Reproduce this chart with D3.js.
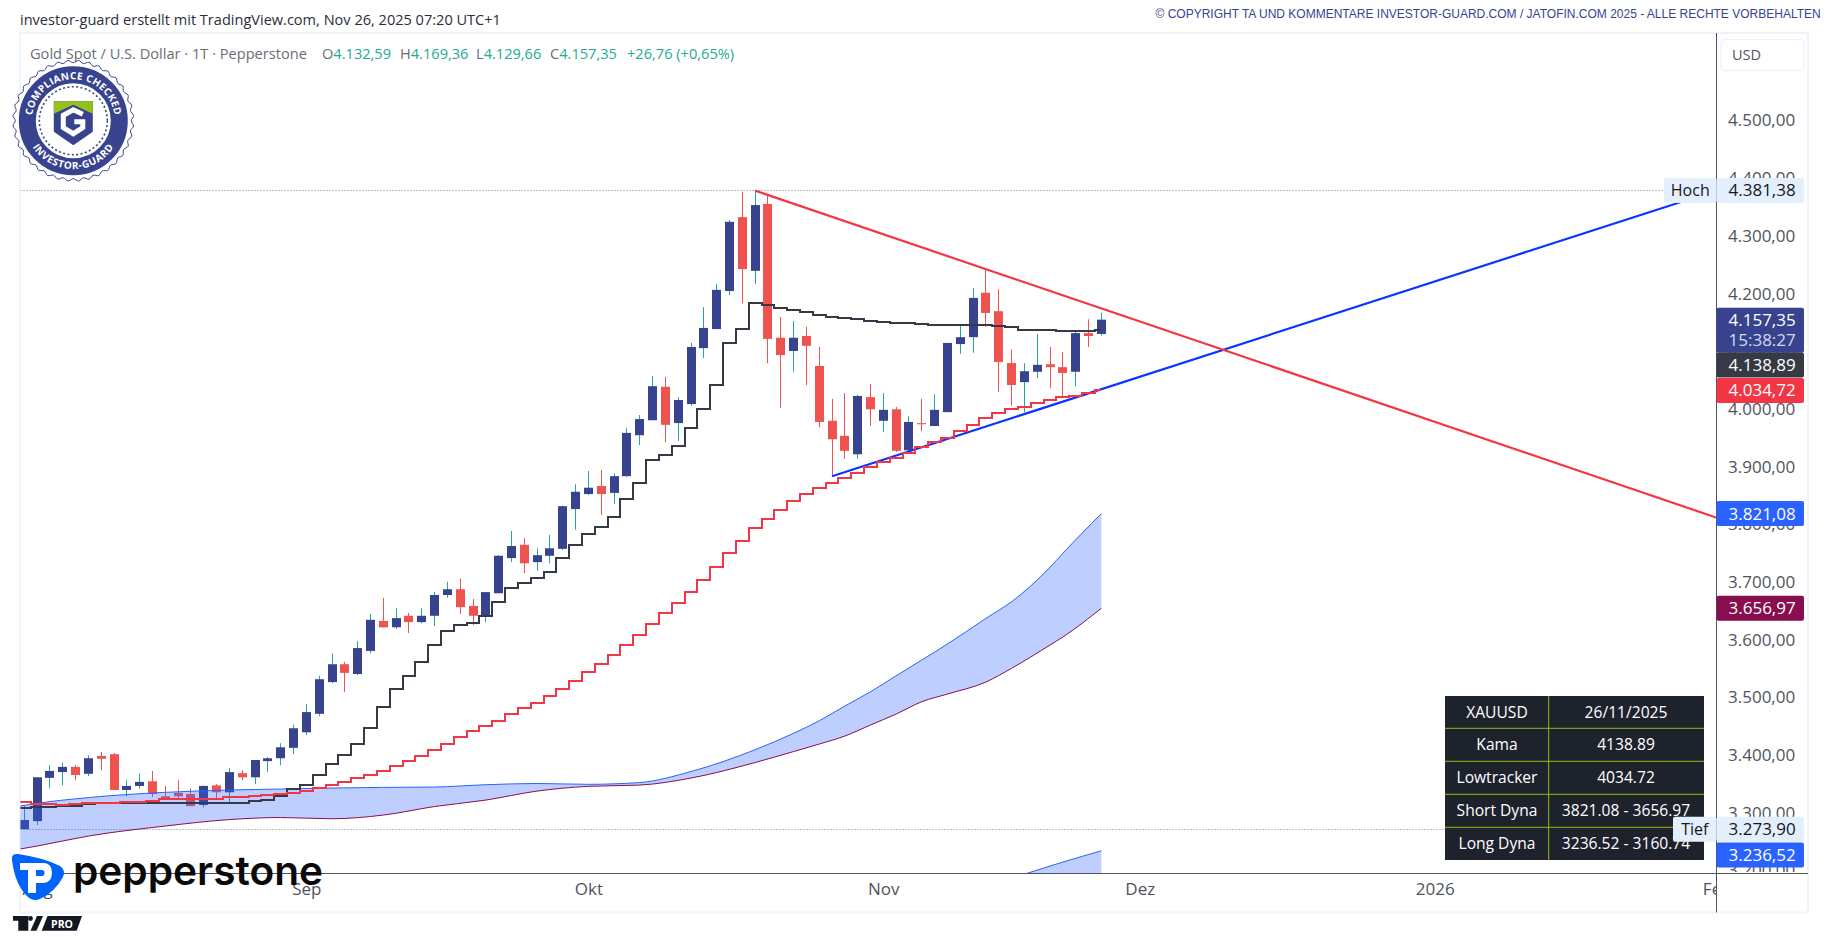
<!DOCTYPE html>
<html>
<head>
<meta charset="utf-8">
<title>XAUUSD</title>
<script src="https://cdn.jsdelivr.net/npm/d3@7"></script>
<style>
  html, body { margin: 0; padding: 0; background: #fff; }
  svg { display: block; }
  text { font-family: "Open Sans", sans-serif; }
</style>
</head>
<body>
<svg id="chart" width="1828" height="937"></svg>
<script>
// daily candles
var opens = [3274,3288,3363,3373,3382,3370,3401,3404,3342,3349,3357,3331,3337,3335,3316,3350,3338,3371,3364,3392,3397,3415,3442,3474,3529,3560,3543,3583,3635,3624,3644,3633,3644,3680,3690,3661,3644,3683,3744,3767,3737,3748,3760,3829,3855,3869,3857,3886,3957,3983,4041,3978,4011,4108,4141,4207,4335,4242,4358,4126,4103,4129,4077,3982,3956,3924,4023,3982,4002,3931,3978,3973,3997,4115,4127,4204,4172,4082,4049,4067,4080,4075,4067,4134,4132.59];
var highs = [3316,3364,3385,3390,3385,3402,3408,3406,3359,3371,3375,3349,3359,3345,3350,3352,3380,3376,3394,3399,3423,3455,3491,3540,3579,3564,3600,3647,3675,3657,3649,3657,3685,3703,3708,3673,3685,3749,3791,3779,3761,3784,3835,3872,3895,3897,3891,3970,3992,4060,4058,4023,4117,4179,4219,4330,4379,4381,4372,4162,4155,4145,4110,4020,4030,4027,4046,4030,4006,3990,4020,4028,4117,4148,4212,4243,4210,4106,4082,4132,4110,4101,4136,4158,4169.36];
var lows = [3274,3281,3345,3350,3359,3366,3376,3342,3331,3344,3330,3328,3328,3314,3312,3328,3321,3359,3352,3373,3385,3404,3437,3470,3527,3512,3541,3579,3624,3621,3614,3631,3626,3675,3647,3628,3633,3683,3737,3718,3722,3735,3758,3793,3853,3819,3838,3885,3940,3983,3945,3947,4008,4091,4141,4200,4186,4219,4082,4004,4067,4044,3971,3886,3916,3916,3973,3963,3928,3928,3964,3973,3997,4098,4100,4145,4032,4008,3997,4056,4039,4025,4041,4110,4129.66];
var closes = [3290,3364,3375,3382,3368,3397,3396,3342,3349,3356,3335,3328,3331,3314,3349,3338,3373,3364,3394,3397,3416,3449,3477,3534,3560,3545,3588,3637,3624,3640,3633,3644,3680,3690,3659,3644,3685,3748,3765,3735,3749,3761,3834,3859,3866,3855,3886,3961,3985,4042,3975,4018,4110,4143,4209,4327,4245,4356,4124,4096,4126,4112,3980,3950,3930,4025,4002,4001,3930,3980,3976,4001,4117,4127,4195,4169,4084,4044,4068,4079,4075,4065,4134,4129,4157.35];

// step lines, first value belongs to the bar before the first visible candle
var kama = [3310,3310,3312,3312,3314,3314,3317,3319,3319,3319,3319,3319,3319,3319,3319,3319,3320,3320,3320,3323,3325,3332,3343,3351,3368,3387,3403,3422,3449,3486,3517,3540,3564,3593,3618,3628,3631,3644,3668,3692,3701,3709,3720,3744,3767,3786,3798,3815,3846,3874,3914,3923,3938,3970,4002,4044,4117,4141,4187,4183,4178,4174,4171,4165,4162,4160,4159,4155,4153,4152,4152,4150,4148,4148,4148,4148,4148,4146,4145,4139,4139,4139,4138,4138,4138,4138.89];
var lowtracker = [3321,3321,3318,3318,3316,3318,3319,3320,3320,3322,3322,3323,3327,3327,3327,3327,3327,3329,3330,3332,3334,3335,3337,3341,3346,3351,3356,3363,3368,3375,3384,3393,3401,3411,3422,3434,3444,3453,3462,3474,3484,3493,3505,3517,3531,3546,3560,3576,3593,3611,3630,3649,3666,3685,3706,3729,3753,3774,3796,3812,3827,3843,3855,3866,3874,3883,3891,3902,3911,3918,3927,3937,3945,3952,3964,3975,3987,3996,4002,4006,4013,4018,4023,4025,4030,4034.72];

// short dyna band, kinks only
var shortIdx = [-1,1,5,11,16,20,24,28,32,36,40,44,48,52,57,60,62,64,66,68,70,72,75,77,80,81,84];
var shortUpper = [3311.5,3318.8,3328.8,3337.9,3341.9,3343.6,3345.3,3346.5,3347.1,3351.1,3353.2,3351.8,3354.9,3374,3411.8,3440.2,3462,3487.5,3512.3,3540,3567.3,3595,3639.5,3668.3,3728,3752.2,3821.08];
var shortLower = [3237,3244.8,3262.1,3279.5,3290.7,3294.2,3292.1,3298.5,3313.3,3324.5,3340.1,3348.3,3350.5,3362.7,3389.6,3408.6,3421.6,3435.5,3454.6,3473.6,3495,3508.3,3529.1,3552.9,3593.2,3607.1,3656.97];

// long dyna band, only its top edge shows above the time axis
var longIdx = [78,81,84];
var longUpper = [3196,3217,3236.52];
var longLower = [3130,3145,3160.74];

// drawn trend lines [bar index, price]
var trendDown = [[57,4381],[132,3814]];
var trendUp = [[63,3886],[132,4381.38]];

var priceTicks = [4500,4400,4300,4200,4100,4000,3900,3800,3700,3600,3500,3400,3300,3200];
var timeTicks = ["Aug","Sep","Okt","Nov","Dez","2026","Feb"];
var timeTickIdx = [1,22,44,67,87,110,132];

var lastOhlc = [4132.59,4169.36,4129.66,4157.35];
var ohlcNames = ["O","H","L","C"];

var markValues = [4381.38,4157.35,4138.89,4034.72,3821.08,3656.97,3273.90,3236.52];
var markFills = ["#e3effd","#38438f","#363a45","#f23645","#2962ff","#880e4f","#e3effd","#2962ff"];
var markInks = ["#131722","#fff","#fff","#fff","#fff","#fff","#131722","#fff"];
var markNudges = [0,0,34.7,0,0,0,0,4.2];

var tableLeft = ["XAUUSD","Kama","Lowtracker","Short Dyna","Long Dyna"];
var tableRight = ["26/11/2025","4138.89","4034.72","3821.08 - 3656.97","3236.52 - 3160.74"];

var deFormat = d3.formatLocale({decimal: ",", thousands: ".", grouping: [3], currency: ["", "$"]}).format(",.2f");

var svg = d3.select("#chart");
var x = d3.scaleLinear().domain([0, 84]).range([24.3, 1101.3]);
var y = d3.scaleLinear().domain([3300, 4500]).range([814.2, 122]);

var axisX = 1716.5, axisY = 873, plotLeft = 20.5, plotRight = 1808, plotTop = 33, plotBottom = 912.5;
var teal = "#22ab94", navy = "#38438f", red = "#ef5350";

var defs = svg.append("defs");
defs.append("clipPath").attr("id", "plot").append("rect")
    .attr("x", plotLeft).attr("y", plotTop).attr("width", axisX - plotLeft).attr("height", axisY - plotTop);
defs.append("clipPath").attr("id", "priceClip").append("rect")
    .attr("x", axisX).attr("y", plotTop).attr("width", plotRight - axisX).attr("height", 872 - plotTop);
defs.append("clipPath").attr("id", "timeClip").append("rect")
    .attr("x", plotLeft).attr("y", axisY).attr("width", axisX - plotLeft).attr("height", plotBottom - axisY);

// header
svg.append("text").attr("x", 20).attr("y", 25).attr("font-size", 14.55).attr("fill", "#2a2e39")
    .text("investor-guard erstellt mit TradingView.com, Nov 26, 2025 07:20 UTC+1");
svg.append("text").attr("x", 1820.7).attr("y", 18).attr("text-anchor", "end")
    .attr("font-size", 12).attr("fill", navy).style("font-family", "'Liberation Sans', Arial, sans-serif")
    .text("© COPYRIGHT TA UND KOMMENTARE INVESTOR-GUARD.COM / JATOFIN.COM 2025 - ALLE RECHTE VORBEHALTEN");

// frame
svg.append("rect").attr("x", 20).attr("y", plotTop).attr("width", plotRight - 20).attr("height", plotBottom - plotTop)
    .attr("fill", "none").attr("stroke", "#f0f3fa").attr("stroke-width", 2);

var plot = svg.append("g").attr("clip-path", "url(#plot)");

// high / low dotted lines
plot.selectAll("line.extreme").data([[4381.38, 1664], [3273.90, 1674]]).join("line")
    .attr("class", "extreme")
    .attr("x1", plotLeft).attr("x2", function(d) { return d[1]; })
    .attr("y1", function(d) { return Math.round(y(d[0])) + 0.5; })
    .attr("y2", function(d) { return Math.round(y(d[0])) + 0.5; })
    .attr("stroke", "#787b86").attr("stroke-width", 1).attr("stroke-dasharray", "1 2");

// candles
var bars = d3.range(opens.length);
function px(i) { return Math.floor(x(i)); }
plot.selectAll("rect.wick").data(bars).join("rect")
    .attr("class", "wick")
    .attr("x", px).attr("width", 1)
    .attr("y", function(i) { return y(highs[i]); })
    .attr("height", function(i) { return y(lows[i]) - y(highs[i]); })
    .attr("fill", function(i) { return closes[i] >= opens[i] ? teal : red; });
plot.selectAll("rect.body").data(bars).join("rect")
    .attr("class", "body")
    .attr("x", function(i) { return px(i) - 4; }).attr("width", 9)
    .attr("y", function(i) { return y(Math.max(opens[i], closes[i])); })
    .attr("height", function(i) { return Math.max(1, Math.abs(y(opens[i]) - y(closes[i]))); })
    .attr("fill", function(i) { return closes[i] >= opens[i] ? navy : red; });

// dyna bands
function drawBand(idx, upper, lower) {
    var area = d3.area().curve(d3.curveMonotoneX)
        .x(function(i) { return x(idx[i]); })
        .y0(function(i) { return y(lower[i]); })
        .y1(function(i) { return y(upper[i]); });
    plot.append("path").attr("d", area(d3.range(idx.length)))
        .attr("fill", "#2962ff").attr("fill-opacity", 0.31);
    var lineOf = function(vals) {
        return d3.line().curve(d3.curveMonotoneX)
            .x(function(i) { return x(idx[i]); }).y(function(i) { return y(vals[i]); })(d3.range(idx.length));
    };
    plot.append("path").attr("d", lineOf(upper)).attr("fill", "none").attr("stroke", "#2962ff").attr("stroke-width", 1);
    plot.append("path").attr("d", lineOf(lower)).attr("fill", "none").attr("stroke", "#880e4f").attr("stroke-width", 1);
}
drawBand(shortIdx, shortUpper, shortLower);
drawBand(longIdx, longUpper, longLower);

// trend lines
var trendLine = d3.line().x(function(d) { return x(d[0]); }).y(function(d) { return y(d[1]); });
plot.append("path").attr("d", trendLine(trendUp)).attr("fill", "none").attr("stroke", "#0a34ff").attr("stroke-width", 2.2);
plot.append("path").attr("d", trendLine(trendDown)).attr("fill", "none").attr("stroke", "#f23645").attr("stroke-width", 2.2);

// step lines
var stepLine = d3.line().curve(d3.curveStep)
    .x(function(d, i) { return x(i - 1); })
    .y(function(d) { return y(d); });
plot.append("path").attr("d", stepLine(kama)).attr("fill", "none").attr("stroke", "#363a45").attr("stroke-width", 2).attr("shape-rendering", "crispEdges");
plot.append("path").attr("d", stepLine(lowtracker)).attr("fill", "none").attr("stroke", "#f23645").attr("stroke-width", 2).attr("shape-rendering", "crispEdges");

// price axis
svg.append("g").attr("clip-path", "url(#priceClip)")
  .append("g").attr("transform", "translate(" + axisX + ",-1.5)")
    .call(d3.axisRight(y).tickValues(priceTicks).tickSize(0).tickPadding(11.5).tickFormat(deFormat))
    .call(function(g) { g.select(".domain").remove(); })
    .selectAll("text").attr("font-size", 17).attr("fill", "#50535e").style("font-family", "'Open Sans', sans-serif");

// time axis
svg.append("g").attr("clip-path", "url(#timeClip)")
  .append("g").attr("transform", "translate(0," + axisY + ")")
    .call(d3.axisBottom(x).tickValues(timeTickIdx).tickSize(0).tickPadding(10)
        .tickFormat(function(d, i) { return timeTicks[i]; }))
    .call(function(g) { g.select(".domain").remove(); })
    .selectAll("text").attr("font-size", 17).attr("fill", "#50535e").style("font-family", "'Open Sans', sans-serif");

svg.append("line").attr("x1", plotLeft).attr("x2", plotRight).attr("y1", axisY + 0.5).attr("y2", axisY + 0.5)
    .attr("stroke", "#50535e").attr("stroke-width", 1);
svg.append("line").attr("x1", axisX).attr("x2", axisX).attr("y1", plotTop).attr("y2", plotBottom)
    .attr("stroke", "#50535e").attr("stroke-width", 1);

// USD box
svg.append("rect").attr("x", 1721).attr("y", 39.5).attr("width", 83).attr("height", 31).attr("rx", 4)
    .attr("fill", "#fff").attr("stroke", "#f0f3fa").attr("stroke-width", 1.5);
svg.append("text").attr("x", 1732).attr("y", 60).attr("font-size", 14.5).attr("fill", "#50535e").text("USD");

// legend
svg.append("text").attr("x", 30).attr("y", 59).attr("font-size", 14.6).attr("fill", "#6a6d78")
    .text("Gold Spot / U.S. Dollar · 1T · Pepperstone");
var legendX = [322, 400, 476, 550];
lastOhlc.forEach(function(v, i) {
    var t = svg.append("text").attr("x", legendX[i]).attr("y", 59).attr("font-size", 14.6).attr("fill", "#6a6d78").text(ohlcNames[i]);
    t.append("tspan").attr("fill", teal).text(deFormat(v));
});
svg.append("text").attr("x", 627).attr("y", 59).attr("font-size", 14.6).attr("fill", teal).text("+26,76 (+0,65%)");

// table
var rowTop = [696, 728.3, 761.3, 794.3, 827.3], rowBottom = [728.3, 761.3, 794.3, 827.3, 860];
var table = svg.append("g");
table.append("rect").attr("x", 1445).attr("y", 696).attr("width", 259).attr("height", 164).attr("fill", "#1e222d");
table.selectAll("line.row").data(rowTop.slice(1)).join("line").attr("class", "row")
    .attr("x1", 1445).attr("x2", 1704).attr("y1", function(d) { return d; }).attr("y2", function(d) { return d; })
    .attr("stroke", "#8fbc14").attr("stroke-width", 1);
table.append("line").attr("x1", 1548.7).attr("x2", 1548.7).attr("y1", 696).attr("y2", 860)
    .attr("stroke", "#8fbc14").attr("stroke-width", 1);
tableLeft.forEach(function(t, i) {
    var cy = (rowTop[i] + rowBottom[i]) / 2 + 5.5;
    table.append("text").attr("x", 1497).attr("y", cy).attr("text-anchor", "middle").attr("font-size", 15.6).attr("font-weight", 500).attr("fill", "#fff").text(t);
    table.append("text").attr("x", 1626).attr("y", cy).attr("text-anchor", "middle").attr("font-size", 15.6).attr("font-weight", 500).attr("fill", "#fff").text(tableRight[i]);
});

// Hoch / Tief tags
function tag(name, value, w) {
    var c = y(value);
    svg.append("rect").attr("x", axisX - w).attr("y", c - 12.5).attr("width", w).attr("height", 25).attr("rx", 2).attr("fill", "#e3effd");
    svg.append("text").attr("x", axisX - w / 2).attr("y", c + 6).attr("text-anchor", "middle").attr("font-size", 16).attr("fill", "#131722").text(name);
}
tag("Hoch", 4381.38, 52.5);
tag("Tief", 3273.90, 43.5);

// price marks
markValues.forEach(function(v, i) {
    var c = y(v) + markNudges[i];
    var tall = v === lastOhlc[3];
    svg.append("rect").attr("x", axisX).attr("y", tall ? c - 12 : c - 12.5).attr("width", 87.5).attr("height", tall ? 45 : 25)
        .attr("fill", markFills[i]).attr("rx", 2);
    svg.append("text").attr("x", 1728.5).attr("y", c + 6).attr("font-size", 17).attr("fill", markInks[i]).text(deFormat(v));
    if (tall) svg.append("text").attr("x", 1728.5).attr("y", c + 26).attr("font-size", 17).attr("fill", "#d5d8ea").text("15:38:27");
});

// compliance badge
var badge = svg.append("g").attr("transform", "translate(73.3,120.7)");
var scallop = d3.lineRadial().curve(d3.curveCardinalClosed)
    .angle(function(d) { return d / 72 * 2 * Math.PI; })
    .radius(function(d) { return d % 2 ? 60.5 : 58; });
badge.append("path").attr("d", scallop(d3.range(72))).attr("fill", "#fff").attr("stroke", navy).attr("stroke-width", 1);
badge.append("circle").attr("r", 46).attr("fill", "none").attr("stroke", navy).attr("stroke-width", 17);
badge.append("circle").attr("r", 34).attr("fill", "none").attr("stroke", navy).attr("stroke-width", 1.6).attr("stroke-dasharray", "2 2.4");
defs.append("path").attr("id", "arcTop").attr("d", "M-41.5,0 A41.5,41.5 0 0 1 41.5,0");
defs.append("path").attr("id", "arcBottom").attr("d", "M-48.5,0 A48.5,48.5 0 0 0 48.5,0");
badge.append("text").attr("font-size", 10).attr("font-weight", 700).attr("letter-spacing", 0.3).attr("fill", "#fff").attr("text-anchor", "middle")
  .append("textPath").attr("href", "#arcTop").attr("startOffset", "50%").text("COMPLIANCE CHECKED");
badge.append("text").attr("font-size", 10).attr("font-weight", 700).attr("letter-spacing", 0.6).attr("fill", "#fff").attr("text-anchor", "middle")
  .append("textPath").attr("href", "#arcBottom").attr("startOffset", "50%").text("INVESTOR-GUARD");
badge.append("path").attr("d", "M-19.5,-19.5 H19.5 V11 L0,24.5 L-19.5,11 Z").attr("fill", navy);
badge.append("path").attr("d", "M-19.5,-19.5 H19.5 V-7 L0,-16 L-19.5,-7 Z").attr("fill", "#95c11f");
badge.append("path").attr("d", "M9.5,-6.5 L0,-11 L-10,-5.5 V7 L0,13 L9.5,7 V1 H1").attr("fill", "none").attr("stroke", "#fff").attr("stroke-width", 5);

// pepperstone logo
var pep = svg.append("g");
pep.append("path").attr("d", "M12 860 Q11 853 18 854 Q45 858 60 866 Q66 870 63 877 Q55 892 40 899 Q33 902 28 897 Q15 885 12 860 Z").attr("fill", "#0064fa");
pep.append("path").attr("d", "M20 863 H43 Q52 863 52 872.5 Q52 883 43 883 H36 V893 H28 V870 H20 Z M36 870 V876 H42 Q44.5 876 44.5 873 Q44.5 870 42 870 Z")
    .attr("fill", "#fff").attr("fill-rule", "evenodd");
pep.append("text").attr("x", 73).attr("y", 885).attr("font-size", 40).attr("font-weight", 600).attr("fill", "#0a0a0a")
    .attr("textLength", 250).attr("lengthAdjust", "spacingAndGlyphs").style("font-family", "Inter, sans-serif").text("pepperstone");

// tradingview pro mark
var tv = svg.append("g").attr("fill", "#131722");
tv.append("path").attr("d", "M13 916 H28.3 V930.7 H18.3 V920.7 H13 Z");
tv.append("circle").attr("cx", 30.5).attr("cy", 918.5).attr("r", 2.4);
tv.append("path").attr("d", "M37 916 H43 L36.5 930.7 H30.5 Z");
tv.append("path").attr("d", "M47.5 916 H82 L76.7 930.7 H41.7 Z");
tv.append("text").attr("x", 62).attr("y", 927.5).attr("text-anchor", "middle").attr("font-size", 10.5).attr("font-weight", 700).attr("fill", "#fff").text("PRO");
</script>
</body>
</html>
